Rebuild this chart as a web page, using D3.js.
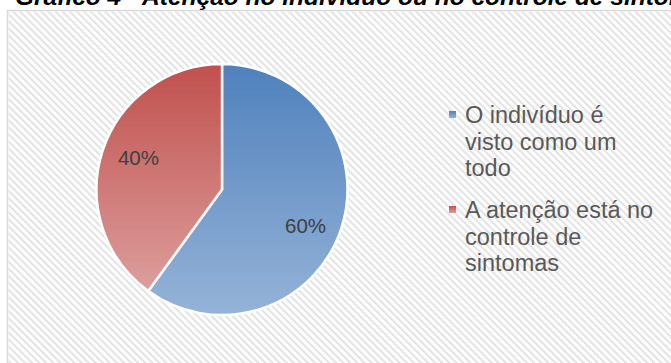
<!DOCTYPE html>
<html>
<head>
<meta charset="utf-8">
<script src="https://cdn.jsdelivr.net/npm/d3@7"></script>
<style>
  html, body { margin: 0; padding: 0; background: #fff; overflow: hidden; }
  svg { display: block; }
</style>
</head>
<body>
<svg id="chart"></svg>
<script>
// Gráfico 4 - pie
const title = "Gráfico 4 - Atenção no indivíduo ou no controle de sintomas";
const categories = ["O indivíduo é visto como um todo", "A atenção está no controle de sintomas"];
const values = [60, 40];
const legendLines = [
    ["O indivíduo é", "visto como um", "todo"],
    ["A atenção está no", "controle de", "sintomas"]
];
const colsTop = ["#4f81bd", "#c0504d"];
const colsBottom = ["#95b3d7", "#dc9e9c"];

const width = 671;
const height = 363;

const svg = d3.select("#chart")
    .attr("width", width)
    .attr("height", height);

const defs = svg.append("defs");

// downward diagonal stripes
defs.append("pattern")
    .attr("id", "stripes")
    .attr("patternUnits", "userSpaceOnUse")
    .attr("width", 5)
    .attr("height", 5)
    .attr("patternTransform", "rotate(-45)")
    .append("rect")
    .attr("width", 2.2)
    .attr("height", 5)
    .attr("fill", "#e4e4e4");

categories.forEach((c, i) => {
    const grad = defs.append("linearGradient")
        .attr("id", "grad" + i)
        .attr("x1", 0).attr("y1", 0)
        .attr("x2", 0).attr("y2", 1);
    grad.append("stop").attr("offset", "0%").attr("stop-color", colsTop[i]);
    grad.append("stop").attr("offset", "100%").attr("stop-color", colsBottom[i]);
});

// chart area
svg.append("rect")
    .attr("x", 7.5)
    .attr("y", 10.5)
    .attr("width", width)
    .attr("height", height)
    .attr("fill", "#fff")
    .attr("stroke", "#d9d9d9")
    .attr("stroke-width", 1.5);
svg.append("rect")
    .attr("x", 8.5)
    .attr("y", 11.5)
    .attr("width", width)
    .attr("height", height)
    .attr("fill", "url(#stripes)");

// title (clipped at top of the picture, as in the source)
svg.append("text")
    .attr("x", 15)
    .attr("y", 5)
    .attr("font-family", "Liberation Sans, Arial, sans-serif")
    .attr("font-size", 24.5)
    .attr("font-weight", "bold")
    .attr("font-style", "italic")
    .attr("fill", "#000")
    .text(title);

// pie
const cx = 222, cy = 189.5, radius = 125.5;

const pie = d3.pie().sort(null).value(d => d);
const arc = d3.arc().innerRadius(0).outerRadius(radius);
const labelArc = d3.arc().innerRadius(radius * 0.7).outerRadius(radius * 0.7);

const arcs = pie(values);

const g = svg.append("g").attr("transform", `translate(${cx},${cy})`);

g.selectAll("path")
    .data(arcs)
    .enter()
    .append("path")
    .attr("d", arc)
    .attr("fill", (d, i) => `url(#grad${i})`)
    .attr("stroke", "#fff")
    .attr("stroke-width", 2.5)
    .attr("stroke-linejoin", "round");

g.selectAll("text.lbl")
    .data(arcs)
    .enter()
    .append("text")
    .attr("class", "lbl")
    .attr("transform", d => `translate(${labelArc.centroid(d)})`)
    .attr("text-anchor", "middle")
    .attr("dy", (d, i) => i == 0 ? "0.8em" : "0.15em")
    .attr("font-family", "Liberation Sans, Arial, sans-serif")
    .attr("font-size", 20.5)
    .attr("fill", "#404040")
    .text(d => Math.round(d.data) + "%");

// legend
const lineH = 26.5;
const itemGap = 15.5;
const legend = svg.append("g").attr("transform", "translate(449,123)");

legendLines.forEach((lines, i) => {
    const y0 = i * (lines.length * lineH + itemGap);
    const item = legend.append("g").attr("transform", `translate(0,${y0})`);
    item.append("rect")
        .attr("x", 0)
        .attr("y", -12)
        .attr("width", 7)
        .attr("height", 7)
        .attr("fill", `url(#grad${i})`);
    item.selectAll("text")
        .data(lines)
        .enter()
        .append("text")
        .attr("x", 16)
        .attr("y", (d, j) => j * lineH)
        .attr("font-family", "Liberation Sans, Arial, sans-serif")
        .attr("font-size", 23.5)
        .attr("fill", "#595959")
        .text(d => d);
});
</script>
</body>
</html>
